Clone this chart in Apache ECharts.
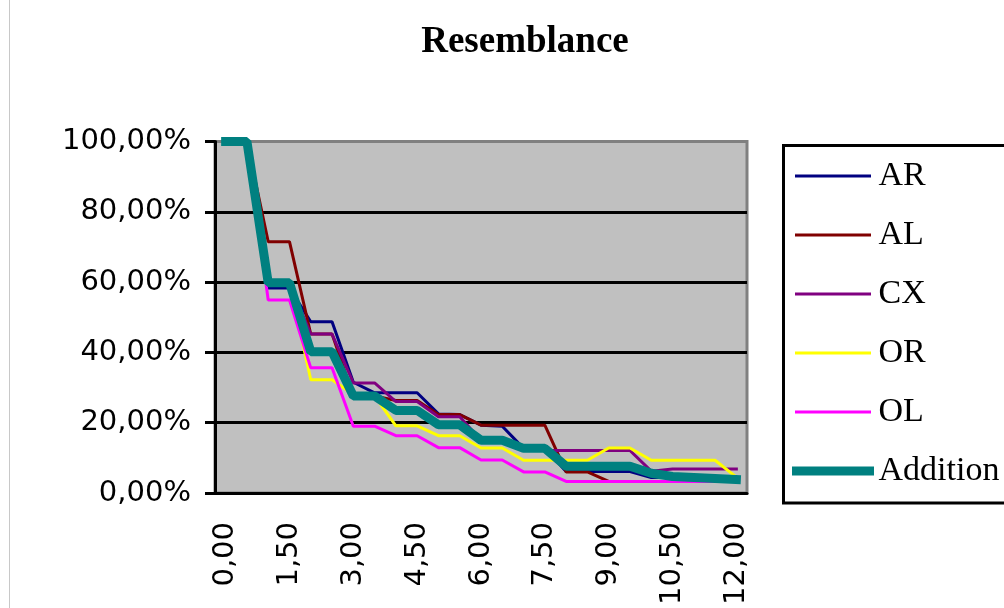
<!DOCTYPE html>
<html><head><meta charset="utf-8">
<script src="https://cdn.jsdelivr.net/npm/echarts@6/dist/echarts.min.js"></script>
<style>html,body{margin:0;padding:0;background:#fff}#c{width:1004px;height:608px}</style>
</head><body><div id="c"></div>
<script>
const titleText = 'Resemblance';
const categories = ['0,00','0,50','1,00','1,50','2,00','2,50','3,00','3,50','4,00','4,50','5,00','5,50','6,00','6,50','7,00','7,50','8,00','8,50','9,00','9,50','10,00','10,50','11,00','11,50','12,00'];
const yTickLabels = ['0,00%','20,00%','40,00%','60,00%','80,00%','100,00%'];
const seriesNames = ['AR','AL','CX','OR','OL','Addition'];
const AR = [100,100,58.3,58.3,48.7,48.7,31.5,28.5,28.5,28.5,22.5,22.3,19.3,19.0,12.7,12.7,6.1,6.1,6.1,6.1,4.4,4.4,4.4,4.4,4.4];
const AL = [100,100,71.5,71.5,45.2,45.2,27.6,27.6,26.3,26.3,22.3,22.3,19.3,19.3,19.3,19.3,6.0,6.0,3.3,3.3,3.3,3.3,3.3,3.3,3.3];
const CX = [100,100,59.8,59.8,45.2,45.2,31.3,31.3,26.0,26.0,21.7,21.7,15.0,15.0,12.1,12.1,12.1,12.1,12.1,12.1,6.2,6.8,6.8,6.8,6.8];
const OR = [100,100,59.8,59.8,32.2,32.2,28.0,27.6,19.1,19.1,16.3,16.3,12.8,12.8,9.3,9.3,9.3,9.3,12.8,12.8,9.3,9.3,9.3,9.3,4.5];
const OL = [100,100,54.9,54.9,35.6,35.6,19.0,19.0,16.3,16.3,12.9,12.9,9.4,9.4,6.0,6.0,3.3,3.3,3.3,3.3,3.3,3.3,3.3,3.3,3.3];
const Addition = [100,100,59.8,59.8,40.2,40.2,27.6,27.6,23.5,23.5,19.4,19.4,15.0,15.0,12.7,12.7,7.6,7.6,7.6,7.6,5.6,4.7,4.4,4.1,3.8];

const seriesData = [AR, AL, CX, OR, OL, Addition];
const colors = ['#000080','#800000','#800080','#FFFF00','#FF00FF','#008080'];
const widths = [3,3,3,3,3,9];

const chart = echarts.init(document.getElementById('c'), null, {renderer:'canvas'});
const axisFont = 'DejaVu Sans';
chart.setOption({
  animation: false,
  backgroundColor: '#ffffff',
  title: {
    text: titleText, left: 520, top: 19, textAlign: 'center',
    textStyle: {fontFamily: 'Liberation Serif', fontWeight: 'bold', fontSize: 37, color: '#000'}
  },
  grid: {
    left: 215, top: 141.5, width: 532, height: 362,
    show: true, backgroundColor: '#C0C0C0', borderColor: '#808080', borderWidth: 3,
    containLabel: false
  },
  legend: {
    orient: 'vertical', left: 792, top: 159, padding: 0,
    itemWidth: 73, itemHeight: 14, itemGap: 25,
    itemStyle: {opacity: 0},
    lineStyle: {width: 3},
    data: seriesNames.map((n, i) => ({name: n, lineStyle: {width: widths[i], color: colors[i]}})),
    textStyle: {fontFamily: 'Liberation Serif', fontSize: 34, lineHeight: 34, color: '#000', padding: [0,0,0,4]}
  },
  xAxis: {
    type: 'category', data: categories, boundaryGap: true,
    axisLine: {lineStyle: {color: '#000', width: 3}},
    axisTick: {interval: 0, length: 10, lineStyle: {color: '#000', width: 3}},
    axisLabel: {interval: 2, rotate: 90, margin: 29, color: '#000', fontFamily: axisFont, fontSize: 29},
    splitLine: {show: false}
  },
  yAxis: {
    type: 'value', min: 0, max: 100, interval: 20,
    axisLine: {show: true, lineStyle: {color: '#000', width: 3}},
    axisTick: {show: true, length: 10, lineStyle: {color: '#000', width: 3}},
    axisLabel: {margin: 24, color: '#000', fontFamily: axisFont, fontSize: 29,
      formatter: v => yTickLabels[Math.round(v / 20)]},
    splitLine: {show: true, lineStyle: {color: ['#000','#000','#000','#000','#000','#808080'], width: 3}}
  },
  graphic: [
    {type: 'rect', shape: {x: 783.5, y: 145.5, width: 400, height: 357.5},
     style: {fill: 'none', stroke: '#000', lineWidth: 3}, z: 100},
    {type: 'line', shape: {x1: 9.5, y1: 0, x2: 9.5, y2: 608},
     style: {stroke: '#c8c8c8', lineWidth: 1}}
  ],
  series: seriesNames.map((n, i) => ({
    name: n, type: 'line', data: seriesData[i], symbol: 'none', smooth: false,
    lineStyle: {color: colors[i], width: widths[i], cap: 'square'},
    itemStyle: {color: colors[i]},
    emphasis: {disabled: true}
  }))
});
</script></body></html>
